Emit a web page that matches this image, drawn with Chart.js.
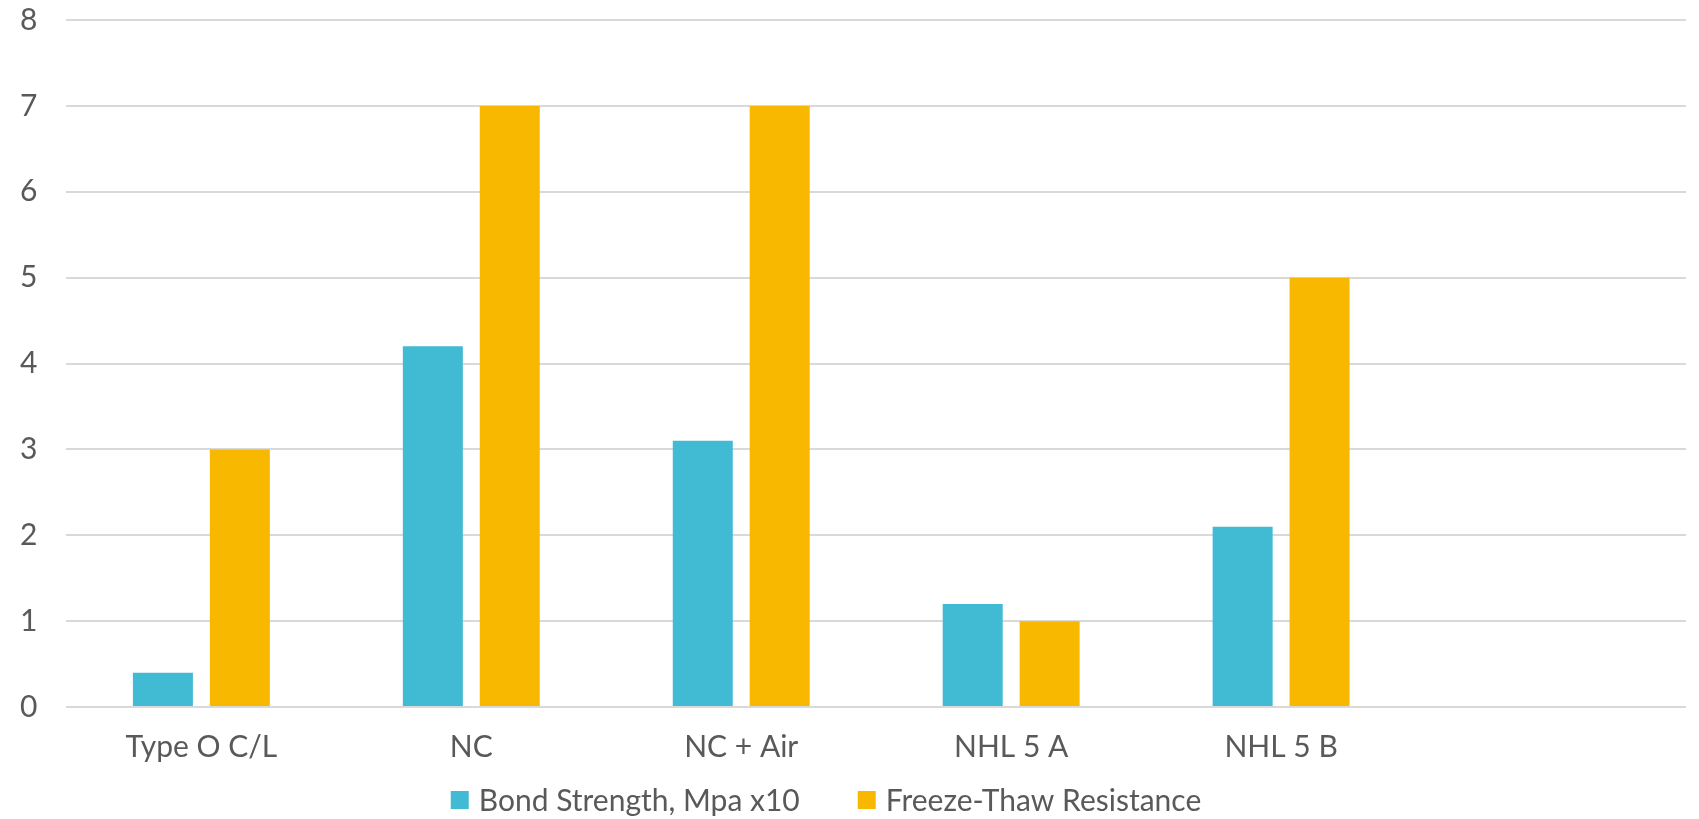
<!DOCTYPE html>
<html>
<head>
<meta charset="utf-8">
<script src="https://cdn.jsdelivr.net/npm/chart.js@4/dist/chart.umd.min.js"></script>
<style>
  html, body { margin: 0; padding: 0; background: #ffffff; }
  #wrap { width: 1699px; height: 819px; }
</style>
</head>
<body>
<div id="wrap"><canvas id="chart" width="1699" height="819"></canvas></div>
<script>
// Mortar types compared (last slot is left blank)
const categories = ['Type O C/L', 'NC', 'NC + Air', 'NHL 5 A', 'NHL 5 B', ''];

// Series values
const bondStrength = [0.4, 4.2, 3.1, 1.2, 2.1, null];
const freezeThaw = [3, 7, 7, 1, 5, null];

// Value axis range and step
const yMin = 0;
const yMax = 8;
const yStep = 1;

const seriesNames = ['Bond Strength, Mpa x10', 'Freeze-Thaw Resistance'];
const seriesColors = ['#41BAD3', '#F9B800'];

const FONT = 'Lato, "Open Sans", "Liberation Sans", sans-serif';
const FONT_SIZE = 30;
const TEXT = '#595959';
const GRID = '#D9D9D9';

// Legend drawn as a single centred row below the axis labels
const bottomLegend = {
  id: 'bottomLegend',
  afterDraw(chart) {
    const ctx = chart.ctx;
    const box = 18, textGap = 10, itemGap = 58;
    const cy = 800, cx = 826;
    ctx.save();
    ctx.font = FONT_SIZE + 'px ' + FONT;
    ctx.textBaseline = 'middle';
    ctx.textAlign = 'left';
    const items = chart.data.datasets.map(ds => ({
      text: ds.label, color: ds.backgroundColor, w: ctx.measureText(ds.label).width
    }));
    const total = items.reduce((s, it) => s + box + textGap + it.w, 0) + itemGap * (items.length - 1);
    let x = cx - total / 2;
    items.forEach(it => {
      ctx.fillStyle = it.color;
      ctx.fillRect(x, cy - box / 2, box, box);
      ctx.fillStyle = TEXT;
      ctx.fillText(it.text, x + box + textGap, cy + 1);
      x += box + textGap + it.w + itemGap;
    });
    ctx.restore();
  }
};

new Chart(document.getElementById('chart'), {
  type: 'bar',
  data: {
    labels: categories,
    datasets: [
      { label: seriesNames[0], data: bondStrength, backgroundColor: seriesColors[0] },
      { label: seriesNames[1], data: freezeThaw, backgroundColor: seriesColors[1] }
    ]
  },
  plugins: [bottomLegend],
  options: {
    responsive: false,
    animation: false,
    layout: { padding: { left: 15, right: 13, top: 20, bottom: 40 } },
    datasets: {
      bar: { categoryPercentage: 0.57, barPercentage: 0.78 }
    },
    plugins: {
      tooltip: { enabled: false },
      legend: { display: false }
    },
    scales: {
      x: {
        grid: { display: false },
        border: { display: false },
        ticks: {
          color: TEXT,
          padding: 14,
          maxRotation: 0,
          autoSkip: false,
          font: { family: FONT, size: FONT_SIZE }
        },
        afterFit(scale) {
          scale.paddingLeft = 0;
          scale.paddingRight = 0;
        }
      },
      y: {
        min: yMin,
        max: yMax,
        border: { display: false },
        grid: { color: GRID, lineWidth: 2, drawTicks: true, tickLength: 24, tickColor: 'rgba(0,0,0,0)' },
        ticks: {
          stepSize: yStep,
          color: TEXT,
          padding: 5,
          font: { family: FONT, size: FONT_SIZE }
        },
        afterFit(scale) {
          scale.paddingTop = 0;
          scale.paddingBottom = 0;
        }
      }
    }
  }
});
</script>
</body>
</html>
